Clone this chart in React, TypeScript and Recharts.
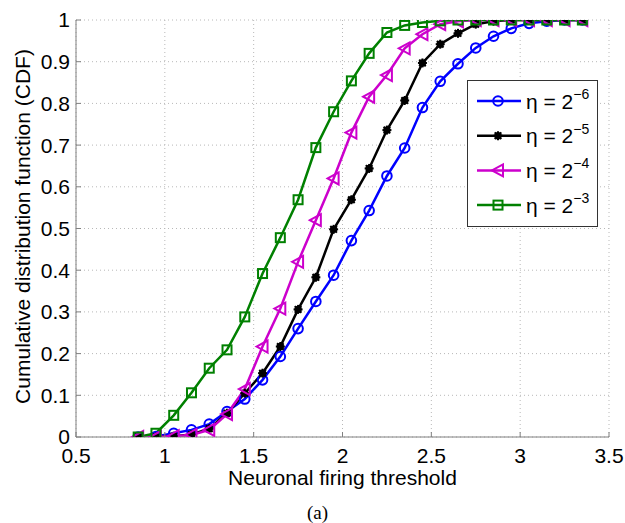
import React from 'react';
import { LineChart, Line, XAxis, YAxis, CartesianGrid, Legend } from 'recharts';

const thresholds = [0.85, 0.95, 1.05, 1.15, 1.25, 1.35, 1.45, 1.55, 1.65, 1.75, 1.85, 1.95, 2.05, 2.15, 2.25, 2.35, 2.45, 2.55, 2.65, 2.75, 2.85, 2.95, 3.05, 3.15, 3.25, 3.35];
const cdfEtaM6 = [0, 0.001, 0.009, 0.017, 0.031, 0.061, 0.091, 0.137, 0.193, 0.26, 0.325, 0.388, 0.471, 0.543, 0.626, 0.693, 0.79, 0.853, 0.895, 0.933, 0.961, 0.98, 0.992, 0.997, 1, 1];
const cdfEtaM5 = [0, 0, 0.002, 0.006, 0.02, 0.057, 0.105, 0.153, 0.217, 0.306, 0.383, 0.498, 0.569, 0.644, 0.736, 0.807, 0.897, 0.942, 0.968, 0.99, 0.997, 1, 1, 1, 1, 1];
const cdfEtaM4 = [0, 0, 0.002, 0.005, 0.017, 0.055, 0.115, 0.217, 0.308, 0.42, 0.52, 0.62, 0.73, 0.816, 0.868, 0.932, 0.966, 0.99, 0.997, 1, 1, 1, 1, 1, 1, 1];
const cdfEtaM3 = [0, 0.009, 0.052, 0.106, 0.165, 0.209, 0.288, 0.392, 0.478, 0.569, 0.694, 0.78, 0.854, 0.92, 0.97, 0.987, 0.994, 0.998, 1, 1, 1, 1, 1, 1, 1, 1];

const seriesKeys = ['m6', 'm5', 'm4', 'm3'];
const seriesExponents = ['\u22126', '\u22125', '\u22124', '\u22123'];
const seriesColors = ['#0000ff', '#000000', '#cc00cc', '#008000'];
const seriesMarkers = ['circle', 'star', 'triangle', 'square'];

const xTicks = [0.5, 1, 1.5, 2, 2.5, 3, 3.5];
const yTicks = [0, 0.1, 0.2, 0.3, 0.4, 0.5, 0.6, 0.7, 0.8, 0.9, 1];

const xLabel = 'Neuronal firing threshold';
const yLabel = 'Cumulative distribution function (CDF)';
const caption = '(a)';

const seriesValues = [cdfEtaM6, cdfEtaM5, cdfEtaM4, cdfEtaM3];
const data = thresholds.map((t, i) => {
  const row: any = { t };
  seriesKeys.forEach((k, j) => { row[k] = seriesValues[j][i]; });
  return row;
});

const FONT = '"Liberation Sans", Arial, sans-serif';

function Marker({ kind, cx, cy, color }: { kind: string; cx: number; cy: number; color: string }) {
  if (kind === 'circle') {
    return <circle cx={cx} cy={cy} r={4.8} fill="none" stroke={color} strokeWidth={2} />;
  }
  if (kind === 'star') {
    return (
      <g stroke={color} strokeWidth={2}>
        <line x1={cx - 4.5} y1={cy} x2={cx + 4.5} y2={cy} />
        <line x1={cx} y1={cy - 4.5} x2={cx} y2={cy + 4.5} />
        <line x1={cx - 3.3} y1={cy - 3.3} x2={cx + 3.3} y2={cy + 3.3} />
        <line x1={cx - 3.3} y1={cy + 3.3} x2={cx + 3.3} y2={cy - 3.3} />
        <circle cx={cx} cy={cy} r={2.7} fill={color} />
      </g>
    );
  }
  if (kind === 'triangle') {
    return (
      <polygon
        points={`${cx - 6},${cy} ${cx + 5},${cy - 6} ${cx + 5},${cy + 6}`}
        fill="none"
        stroke={color}
        strokeWidth={2}
        strokeLinejoin="miter"
      />
    );
  }
  return <rect x={cx - 4.5} y={cy - 4.5} width={9} height={9} fill="none" stroke={color} strokeWidth={2} />;
}

const renderLegend = () => (
  <svg width={131} height={147} style={{ display: 'block' }}>
    <rect x={0.5} y={0.5} width={130} height={146} fill="#fff" stroke="#333" strokeWidth={1} />
    {seriesKeys.map((k, i) => {
      const cy = 21 + i * 34.7;
      return (
        <g key={k}>
          <line x1={10} y1={cy} x2={54} y2={cy} stroke={seriesColors[i]} strokeWidth={2.5} />
          <Marker kind={seriesMarkers[i]} cx={31} cy={cy} color={seriesColors[i]} />
          <text x={59} y={cy + 7.5} fontSize={21} fontFamily={FONT} fill="#000">
            {'\u03b7 = 2'}
            <tspan dy={-9.5} fontSize={14}>{seriesExponents[i]}</tspan>
          </text>
        </g>
      );
    })}
  </svg>
);

const renderYLabel = (props: any) => {
  const vb = props.viewBox || { x: 0, y: 20, width: 76, height: 417 };
  const x = vb.x + 30;
  const y = vb.y + vb.height / 2 - 2;
  return (
    <text x={x} y={y} transform={`rotate(-90, ${x}, ${y})`} textAnchor="middle" fontSize={21} fontFamily={FONT} fill="#000">
      {yLabel}
    </text>
  );
};

const renderXLabel = (props: any) => {
  const vb = props.viewBox || { x: 76, y: 437, width: 533, height: 86 };
  const cx = vb.x + vb.width / 2;
  return (
    <g>
      <text x={cx} y={vb.y + 48} textAnchor="middle" fontSize={21} fontFamily={FONT} fill="#000">
        {xLabel}
      </text>
      <text x={cx - 25} y={vb.y + 82} textAnchor="middle" fontSize={19} fontFamily={'"Liberation Serif", "Times New Roman", serif'} fill="#000">
        {caption}
      </text>
    </g>
  );
};

export default function App() {
  return (
    <div style={{ position: 'absolute', left: 0, top: 0, width: 625, height: 523, background: '#fff' }}>
      <LineChart
        width={625}
        height={523}
        data={data}
        margin={{ top: 20, right: 16, left: 0, bottom: 0 }}
        style={{ fontFamily: FONT }}
      >
        <CartesianGrid stroke="#b8b8b8" strokeDasharray="1 3" strokeWidth={1} />
        <XAxis
          dataKey="t"
          type="number"
          domain={[0.5, 3.5]}
          ticks={xTicks}
          interval={0}
          allowDataOverflow
          height={86}
          tickSize={-5}
          tickMargin={16}
          stroke="#808080"
          tick={{ fill: '#000', fontSize: 21 }}
          tickFormatter={(v: number) => String(v)}
          label={renderXLabel}
        />
        <XAxis
          xAxisId="top"
          orientation="top"
          dataKey="t"
          type="number"
          domain={[0.5, 3.5]}
          ticks={xTicks}
          interval={0}
          allowDataOverflow
          height={0}
          tickSize={-5}
          stroke="#808080"
          tick={false}
        />
        <YAxis
          type="number"
          domain={[0, 1]}
          ticks={yTicks}
          interval={0}
          allowDataOverflow
          width={76}
          tickSize={-5}
          tickMargin={11}
          stroke="#808080"
          tick={{ fill: '#000', fontSize: 21 }}
          tickFormatter={(v: number) => String(Math.round(v * 10) / 10)}
          label={renderYLabel}
        />
        <YAxis
          yAxisId="right"
          orientation="right"
          type="number"
          domain={[0, 1]}
          ticks={yTicks}
          interval={0}
          allowDataOverflow
          width={0}
          tickSize={-5}
          stroke="#808080"
          tick={false}
        />
        {seriesKeys.map((k, i) => (
          <Line
            key={k}
            type="linear"
            dataKey={k}
            name={`\u03b7 = 2^${seriesExponents[i]}`}
            stroke={seriesColors[i]}
            strokeWidth={2.5}
            isAnimationActive={false}
            activeDot={false}
            dot={(p: any) => (
              <Marker key={`${k}-${p.index}`} kind={seriesMarkers[i]} cx={p.cx} cy={p.cy} color={seriesColors[i]} />
            )}
          />
        ))}
        <Legend
          layout="horizontal"
          verticalAlign="middle"
          align="center"
          content={renderLegend}
          wrapperStyle={{ left: 467, top: 80, width: 131, height: 147, position: 'absolute' }}
        />
      </LineChart>
    </div>
  );
}
